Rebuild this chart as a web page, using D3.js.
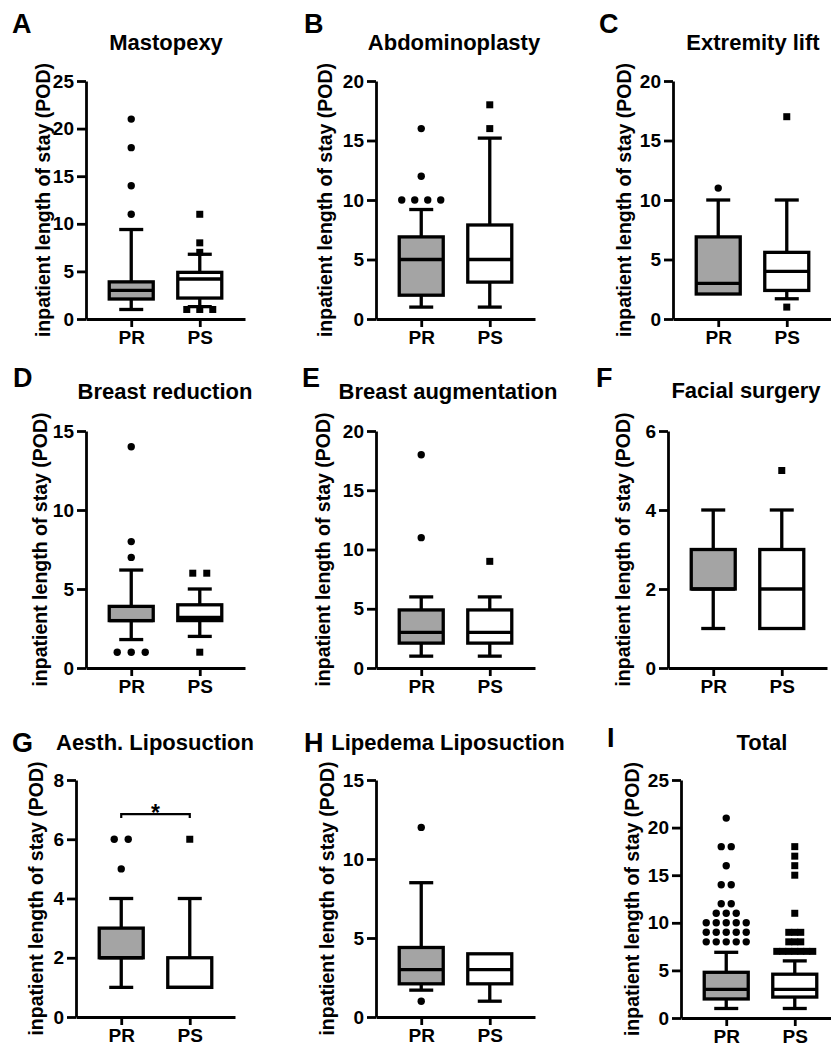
<!DOCTYPE html>
<html>
<head>
<meta charset="utf-8">
<script src="https://cdn.jsdelivr.net/npm/d3@7"></script>
<style>
body { margin: 0; background: #fff; }
svg text { font-family: "Liberation Sans", Arial, Helvetica, sans-serif; font-weight: bold; fill: #000; }
</style>
</head>
<body>
<script>
// categories and panels
var groups = ["PR", "PS"];
var letters = ["A", "B", "C", "D", "E", "F", "G", "H", "I"];
var titles = ["Mastopexy", "Abdominoplasty", "Extremity lift", "Breast reduction", "Breast augmentation",
    "Facial surgery", "Aesth. Liposuction", "Lipedema Liposuction", "Total"];
var yMax = [25, 20, 20, 15, 20, 6, 8, 15, 25];
var yStep = [5, 5, 5, 5, 5, 2, 2, 5, 5];

// [lower whisker, q1, median, q3, upper whisker]
var prStats = [
    [1, 2.1, 3, 3.9, 9.4],
    [1, 2, 5, 6.9, 9.2],
    [2.1, 2.1, 3, 6.9, 10],
    [1.8, 3, 3, 3.9, 6.2],
    [1, 2.1, 3, 4.9, 6],
    [1, 2, 2, 3, 4],
    [1, 2, 2, 3, 4],
    [1.7, 2.1, 3, 4.4, 8.5],
    [1, 2, 3, 4.8, 6.9]
];
var psStats = [
    [1.3, 2.2, 4.2, 4.9, 6.8],
    [1, 3.1, 5, 7.9, 15.2],
    [1.7, 2.4, 4, 5.6, 10],
    [2, 3, 3.2, 4, 5],
    [1, 2.1, 3, 4.9, 6],
    [1, 1, 2, 3, 4],
    [1, 1, 1, 2, 4],
    [1, 2.1, 3, 4, 4],
    [1, 2.2, 3, 4.6, 6]
];
var prOutliers = [
    [11, 14, 18, 21],
    [10, 10, 10, 10, 12, 16],
    [11],
    [1, 1, 1, 7, 8, 14],
    [11, 18],
    [],
    [5, 6, 6],
    [1, 12],
    [8, 8, 8, 8, 8, 9, 9, 9, 9, 9, 10, 10, 10, 10, 10, 11, 11, 11, 12, 12, 14, 14, 16, 18, 18, 21]
];
var psOutliers = [
    [1, 1, 1, 7, 8, 11],
    [16, 18],
    [1, 17],
    [1, 6, 6],
    [9],
    [5],
    [6],
    [],
    [7, 7, 7, 7, 7, 7, 7, 8, 8, 8, 9, 9, 9, 11, 15, 16, 17, 18]
];

// layout of each panel
var axisX = [86, 376, 673, 86, 376, 668, 76, 376, 681];
var plotTop = [81, 81, 81, 431, 431, 431, 780, 780, 780];
var plotBottom = [319, 319, 319, 668, 668, 668, 1017, 1017, 1018];
var axisLen = 159;
var labelX = [43, 325, 624, 40, 323, 623, 36, 327, 632];
var titleX = [166, 454, 753, 165, 448, 746, 155, 448, 762];
var titleY = [50, 50, 50, 399, 399, 398, 750, 750, 750];
var letterX = [12, 304, 599, 13, 302, 596, 12, 304, 607];
var letterY = [33, 33, 33, 387, 387, 387, 752, 752, 747];
var spread = [[13, 13], [13, 13], [13, 13], [14, 14], [13, 13], [13, 13], [14, 14], [13, 13], [10, 6]];

var boxW = 44, capW = 24, lw = 3.3;
var fills = ["#a4a4a4", "#ffffff"];

var svg = d3.select("body")
    .append("svg")
    .attr("width", 831)
    .attr("height", 1050);

svg.append("rect").attr("width", 831).attr("height", 1050).attr("fill", "#fff");

letters.forEach(function(letter, p) {
    var g = svg.append("g");

    var y = d3.scaleLinear()
        .domain([0, yMax[p]])
        .range([plotBottom[p], plotTop[p]]);
    var x = d3.scalePoint()
        .domain(groups)
        .range([axisX[p], axisX[p] + axisLen])
        .padding(0.66);

    // y axis
    var ya = g.append("g")
        .attr("transform", "translate(" + axisX[p] + ",0)")
        .call(d3.axisLeft(y)
            .tickValues(d3.range(0, yMax[p] + 0.01, yStep[p]))
            .tickFormat(d3.format("d"))
            .tickSize(9).tickSizeOuter(0).tickPadding(3));
    ya.selectAll("text").style("font-size", "19px");

    // x axis
    var xa = g.append("g")
        .attr("transform", "translate(0," + plotBottom[p] + ")")
        .call(d3.axisBottom(x).tickSize(8).tickSizeOuter(0).tickPadding(4));
    xa.selectAll("text").style("font-size", "19px");

    g.selectAll(".domain, .tick line").attr("stroke", "#000").attr("stroke-width", 2.8);

    // labels
    g.append("text")
        .attr("x", letterX[p]).attr("y", letterY[p])
        .style("font-size", "27px")
        .text(letter);
    g.append("text")
        .attr("x", titleX[p]).attr("y", titleY[p])
        .attr("text-anchor", "middle")
        .style("font-size", "22px")
        .text(titles[p]);
    g.append("text")
        .attr("transform", "translate(" + labelX[p] + "," + ((plotTop[p] + plotBottom[p]) / 2) + ") rotate(-90)")
        .attr("text-anchor", "middle")
        .attr("dy", "0.35em")
        .style("font-size", "19.5px")
        .text("inpatient length of stay (POD)");

    // boxes
    [prStats[p], psStats[p]].forEach(function(s, i) {
        var cx = x(groups[i]);
        var bg = g.append("g").attr("stroke", "#000").attr("stroke-width", lw);
        if (s[0] < s[1]) {
            bg.append("line").attr("x1", cx).attr("x2", cx).attr("y1", y(s[0])).attr("y2", y(s[1]));
            bg.append("line").attr("x1", cx - capW / 2).attr("x2", cx + capW / 2).attr("y1", y(s[0])).attr("y2", y(s[0]));
        }
        if (s[4] > s[3]) {
            bg.append("line").attr("x1", cx).attr("x2", cx).attr("y1", y(s[3])).attr("y2", y(s[4]));
            bg.append("line").attr("x1", cx - capW / 2).attr("x2", cx + capW / 2).attr("y1", y(s[4])).attr("y2", y(s[4]));
        }
        bg.append("rect")
            .attr("x", cx - boxW / 2).attr("width", boxW)
            .attr("y", y(s[3])).attr("height", y(s[1]) - y(s[3]))
            .attr("fill", fills[i]);
        bg.append("line").attr("x1", cx - boxW / 2).attr("x2", cx + boxW / 2).attr("y1", y(s[2])).attr("y2", y(s[2]));
    });

    // outliers, equal values spread sideways
    [prOutliers[p], psOutliers[p]].forEach(function(vals, i) {
        var cx = x(groups[i]);
        var counts = d3.rollups(vals, v => v.length, v => v);
        var pts = [];
        counts.forEach(function(c) {
            for (var k = 0; k < c[1]; k++) {
                pts.push({ v: c[0], dx: (k - (c[1] - 1) / 2) * spread[p][i] });
            }
        });
        if (i == 0) {
            g.selectAll(null).data(pts).enter().append("circle")
                .attr("cx", d => cx + d.dx).attr("cy", d => y(d.v))
                .attr("r", 3.7).attr("fill", "#000");
        } else {
            g.selectAll(null).data(pts).enter().append("rect")
                .attr("x", d => cx + d.dx - 3.5).attr("y", d => y(d.v) - 3.5)
                .attr("width", 7).attr("height", 7).attr("fill", "#000");
        }
    });

    // significance bracket (G)
    if (p == 6) {
        var by = y(6.85);
        g.append("path")
            .attr("d", "M" + x("PR") + "," + (by + 4) + "V" + by + "H" + x("PS") + "V" + (by + 4))
            .attr("fill", "none").attr("stroke", "#000").attr("stroke-width", 2.2);
        g.append("text")
            .attr("x", (x("PR") + x("PS")) / 2).attr("y", by + 7)
            .attr("text-anchor", "middle")
            .style("font-size", "23px")
            .text("*");
    }
});
</script>
</body>
</html>
